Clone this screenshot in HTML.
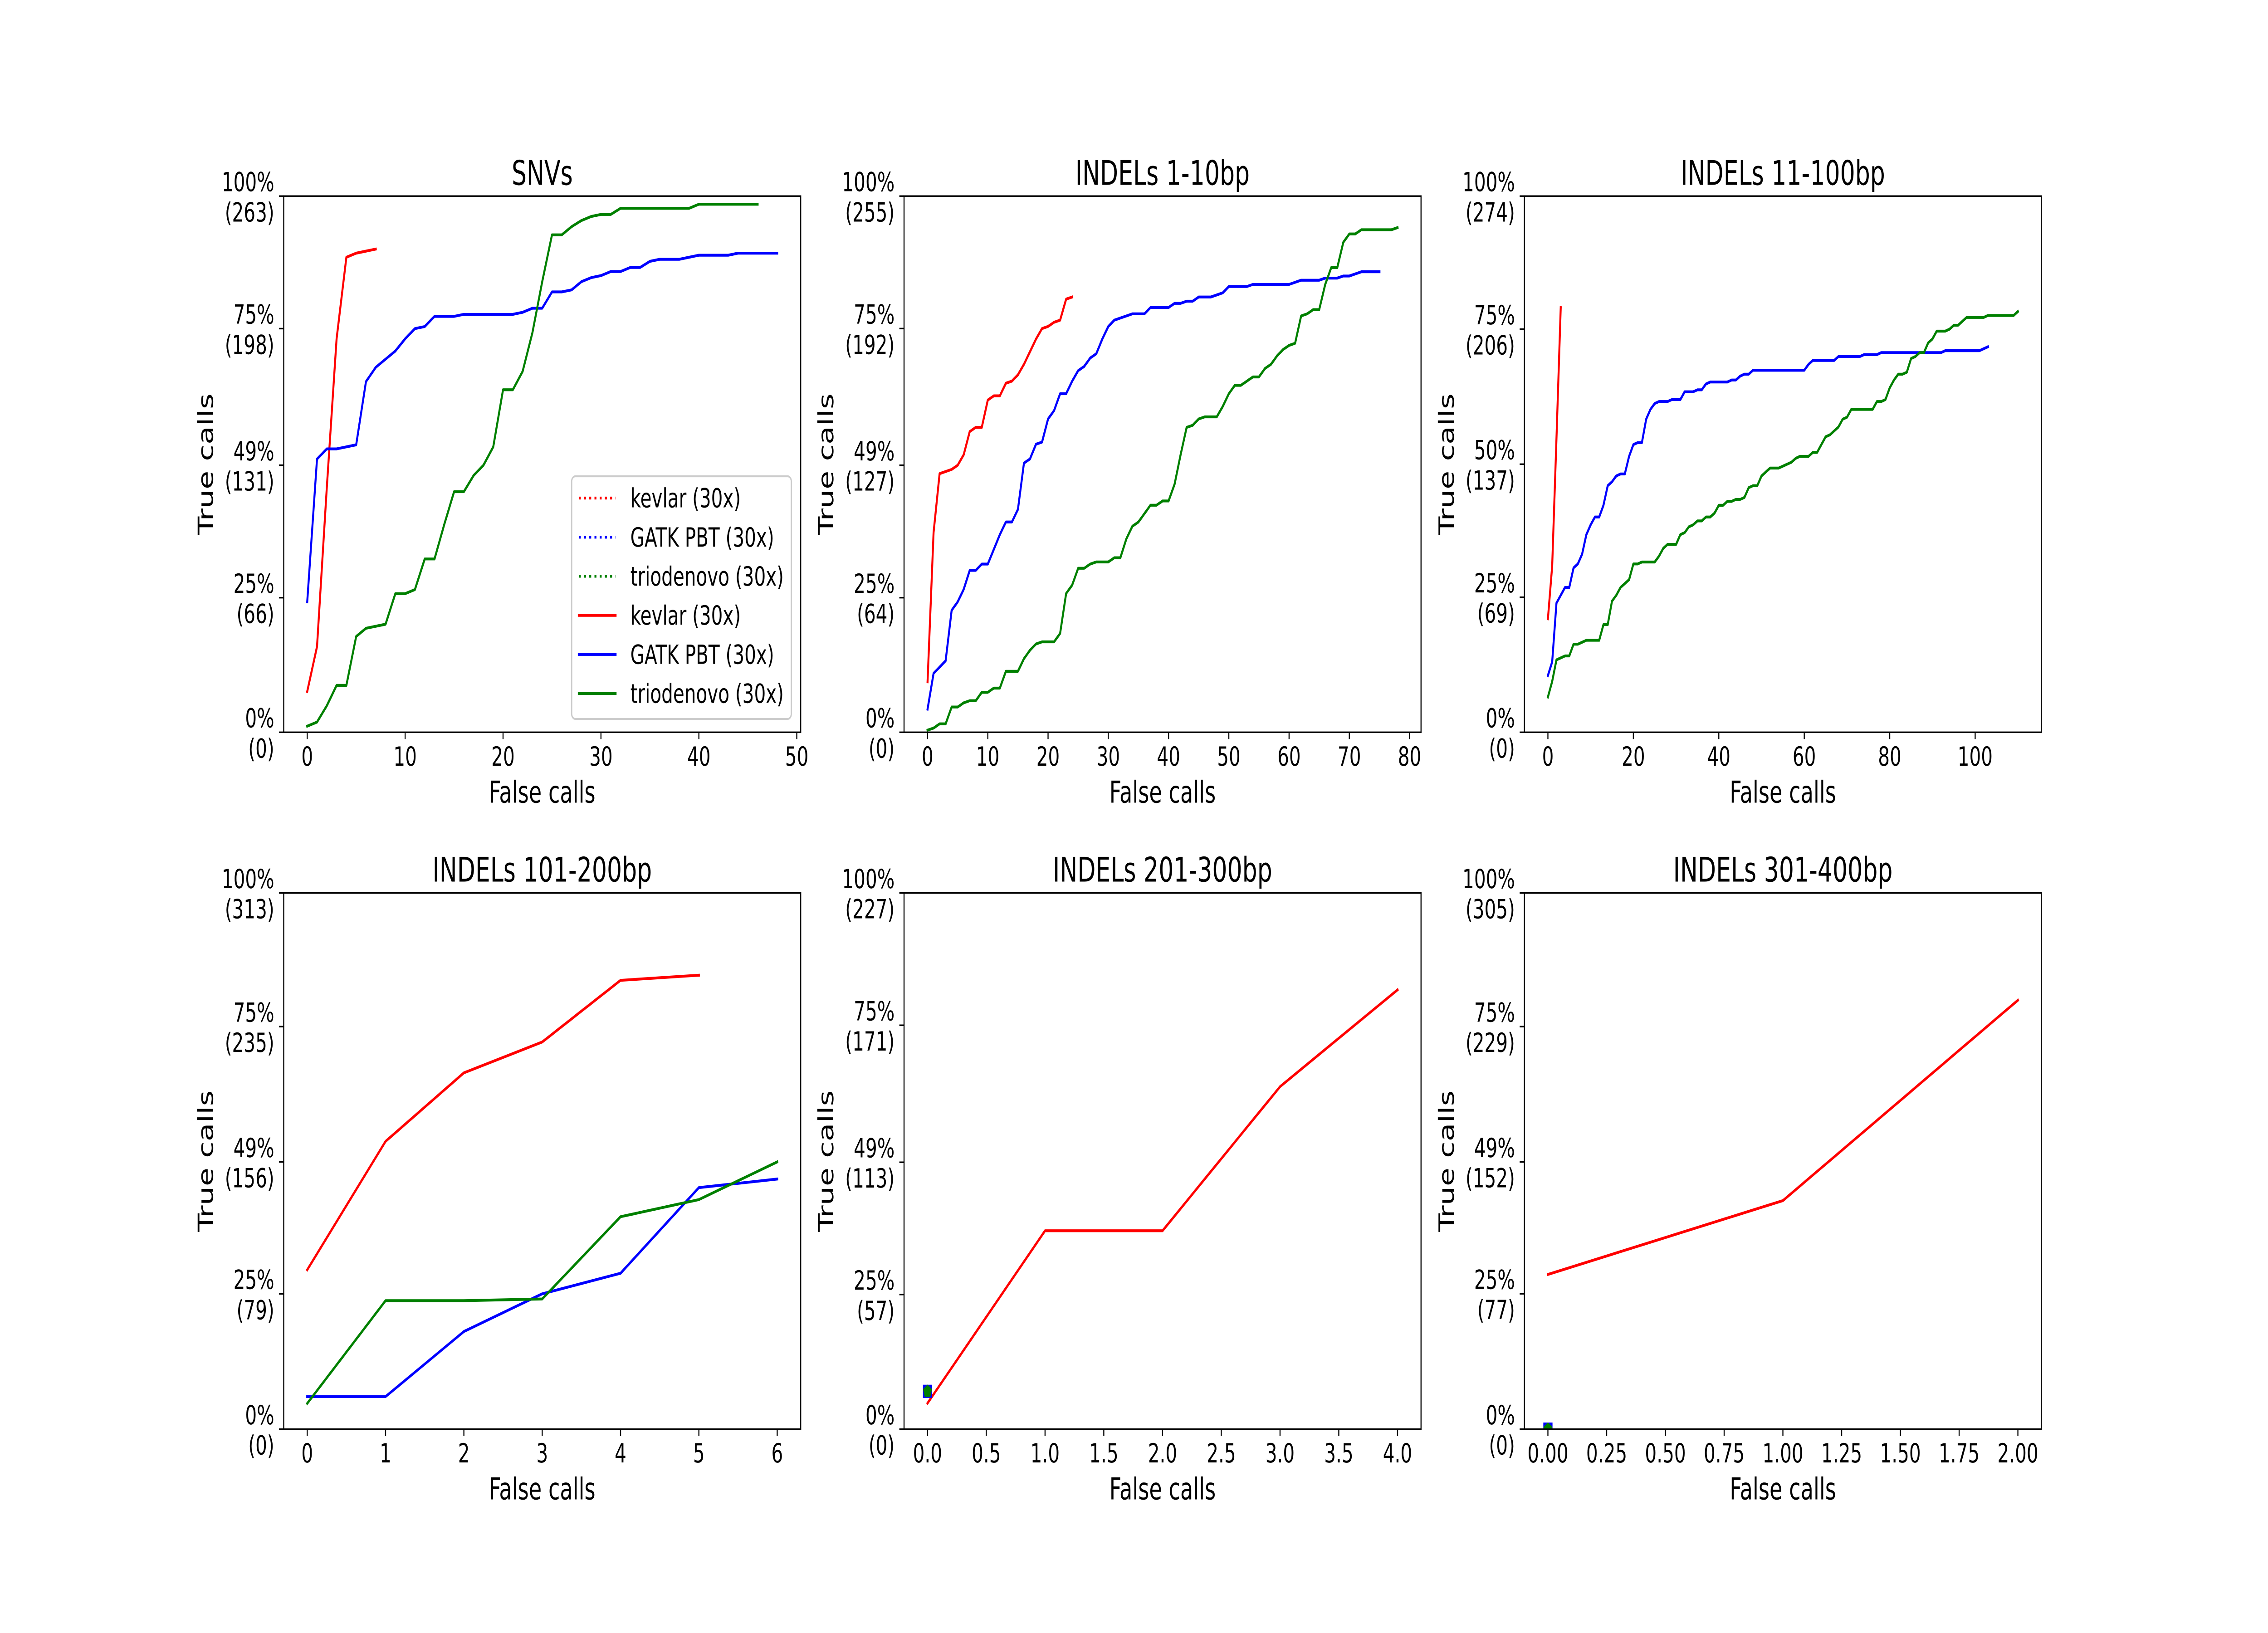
<!DOCTYPE html>
<html lang="en">
<head>
<meta charset="utf-8">
<title>True calls vs false calls</title>
<style>
html,body{margin:0;padding:0;background:#fff;width:100%;height:100%;overflow:hidden;}
svg{display:block;width:100vw;height:100vh;}
text{font-family:"DejaVu Sans","Liberation Sans",sans-serif;fill:#000;text-rendering:geometricPrecision;}
</style>
</head>
<body>
<svg id="figure" xmlns="http://www.w3.org/2000/svg" viewBox="0 0 7200 3600" preserveAspectRatio="none"></svg>
<script>
/* ---------- data: counts of true calls at each false-call count (index = false calls) ---------- */
const snvKevlar = [20,42,120,193,233,235,236,237];
const snvGatk = [64,134,139,139,140,141,172,179,183,187,193,198,199,204,204,204,205,205,205,205,205,205,206,208,208,216,216,217,221,223,224,226,226,228,228,231,232,232,232,233,234,234,234,234,235,235,235,235,235];
const snvTrio = [3,5,13,23,23,47,51,52,53,68,68,70,85,85,102,118,118,126,131,140,168,168,177,196,221,244,244,248,251,253,254,254,257,257,257,257,257,257,257,257,259,259,259,259,259,259,259];

const ind1Kevlar = [24,95,123,124,125,127,132,143,145,145,158,160,160,166,167,170,175,181,187,192,193,195,196,206,207];
const ind1Gatk = [11,28,31,34,58,62,68,77,77,80,80,87,94,100,100,106,128,130,137,138,149,153,161,161,167,172,174,178,180,187,193,196,197,198,199,199,199,202,202,202,202,204,204,205,205,207,207,207,208,209,212,212,212,212,213,213,213,213,213,213,213,214,215,215,215,215,216,216,216,217,217,218,219,219,219,219];
const ind1Trio = [1,2,4,4,12,12,14,15,15,19,19,21,21,29,29,29,35,39,42,43,43,43,47,66,70,78,78,80,81,81,81,83,83,92,98,100,104,108,108,110,110,118,132,145,146,149,150,150,150,155,161,165,165,167,169,169,173,175,179,182,184,185,198,199,201,201,213,221,221,233,237,237,239,239,239,239,239,239,240];

const ind11Kevlar = [58,85,150,217];
const ind11Gatk = [29,36,66,70,74,74,84,86,91,101,106,110,110,116,126,128,131,132,132,141,147,148,148,160,165,168,169,169,169,170,170,170,174,174,174,175,175,178,179,179,179,179,179,180,180,182,183,183,185,185,185,185,185,185,185,185,185,185,185,185,185,188,190,190,190,190,190,190,192,192,192,192,192,192,193,193,193,193,194,194,194,194,194,194,194,194,194,194,194,194,194,194,194,195,195,195,195,195,195,195,195,195,196,197];
const ind11Trio = [18,26,37,38,39,39,45,45,46,47,47,47,47,55,55,67,70,74,76,78,86,86,87,87,87,87,90,94,96,96,96,101,102,105,106,108,108,110,110,112,116,116,118,118,119,119,120,125,126,126,131,133,135,135,135,136,137,138,140,141,141,141,143,143,147,151,152,154,156,160,161,165,165,165,165,165,165,169,169,170,176,180,183,183,184,191,192,194,194,199,201,205,205,205,206,208,208,210,212,212,212,212,212,213,213,213,213,213,213,213,215];

const ind101Kevlar = [93,168,208,226,262,265];
const ind101Gatk = [19,19,57,79,91,141,146];
const ind101Trio = [15,75,75,76,124,134,156];

const ind201Kevlar = [11,84,84,145,186];
const ind201Gatk = [16];
const ind201Trio = [16];

const ind301Kevlar = [88,130,244];
const ind301Gatk = [0];
const ind301Trio = [0];

/* ---------- tick labels ---------- */
const yCountsSnv = [0,66,131,198,263];
const yCountsInd1 = [0,64,127,192,255];
const yCountsInd11 = [0,69,137,206,274];
const yCountsInd101 = [0,79,156,235,313];
const yCountsInd201 = [0,57,113,171,227];
const yCountsInd301 = [0,77,152,229,305];
const yPercents = ['0%','25%','49%','75%','100%'];
const yPercentsInd11 = ['0%','25%','50%','75%','100%'];
const xTicksSnv = ['0','10','20','30','40','50'];
const xTicksInd1 = ['0','10','20','30','40','50','60','70','80'];
const xTicksInd11 = ['0','20','40','60','80','100'];
const xTicksInd101 = ['0','1','2','3','4','5','6'];
const xTicksInd201 = ['0.0','0.5','1.0','1.5','2.0','2.5','3.0','3.5','4.0'];
const xTicksInd301 = ['0.00','0.25','0.50','0.75','1.00','1.25','1.50','1.75','2.00'];
const panelTitles = ['SNVs','INDELs 1-10bp','INDELs 11-100bp','INDELs 101-200bp','INDELs 201-300bp','INDELs 301-400bp'];
const panelSlugs = ['snvs','indels-1-10','indels-11-100','indels-101-200','indels-201-300','indels-301-400'];
const legendLabels = ['kevlar (30x)','GATK PBT (30x)','triodenovo (30x)'];
const seriesSlugs = ['kevlar','gatk-pbt','triodenovo'];

const panelSeries = [
  [snvKevlar,snvGatk,snvTrio],
  [ind1Kevlar,ind1Gatk,ind1Trio],
  [ind11Kevlar,ind11Gatk,ind11Trio],
  [ind101Kevlar,ind101Gatk,ind101Trio],
  [ind201Kevlar,ind201Gatk,ind201Trio],
  [ind301Kevlar,ind301Gatk,ind301Trio]
];
const panelYCounts = [yCountsSnv,yCountsInd1,yCountsInd11,yCountsInd101,yCountsInd201,yCountsInd301];
const panelYPercents = [yPercents,yPercents,yPercentsInd11,yPercents,yPercents,yPercents];
const panelXTicks = [xTicksSnv,xTicksInd1,xTicksInd11,xTicksInd101,xTicksInd201,xTicksInd301];

/* ---------- layout ---------- */
const NS = 'http://www.w3.org/2000/svg';
const root = document.getElementById('figure');
const colors = ['#ff0000','#0000ff','#008000'];
const colLefts = [900.7,2870,4839.4];
const rowTops = [432.3,1968.6];
const axW = 1641.2;
const axH = 1182;
const lw = 6.25;
const spineW = 3.4;
const tickLen = 15;

function mk(parent,tag,attrs,txt){
  const el = document.createElementNS(NS,tag);
  for(const k in attrs){ el.setAttribute(k,attrs[k]); }
  if(txt!==undefined){ el.textContent = txt; }
  parent.appendChild(el);
  return el;
}

function drawPanel(i){
  const left = colLefts[i%3];
  const top = rowTops[Math.floor(i/3)];
  const bottom = top+axH;
  const series = panelSeries[i];
  const counts = panelYCounts[i];
  const pcts = panelYPercents[i];
  const xLabels = panelXTicks[i];
  const yMax = counts[counts.length-1];
  const xMax = Math.max.apply(null,series.map(function(s){return s.length-1;}));
  const pad = xMax*0.05;
  const xScale = function(v){ return left+axW*(v+pad)/(xMax+2*pad); };
  const yScale = function(v){ return bottom-axH*v/yMax; };

  const g = mk(root,'g',{});
  
  

  const cid = 'clip-'+i;
  const defs = mk(g,'defs',{});
  const cp = mk(defs,'clipPath',{id:cid});
  mk(cp,'rect',{x:left,y:top,width:axW,height:axH});

  const bg = mk(g,'rect',{x:left,y:top,width:axW,height:axH,fill:'#fff'});
  
  

  const title = mk(g,'text',{x:left+axW/2,y:top-25,'font-size':75,'text-anchor':'middle'},panelTitles[i]);
  
  

  const marks = mk(g,'g',{'clip-path':'url(#'+cid+')'});
  
  

  series.forEach(function(vals,s){
    if(vals.length>1){
      const pts = vals.map(function(v,x){ return xScale(x).toFixed(2)+','+yScale(v).toFixed(2); }).join(' ');
      const line = mk(marks,'polyline',{points:pts,fill:'none',stroke:colors[s],'stroke-width':lw,'stroke-linecap':'square','stroke-linejoin':'round'});
      
      
    }else{
      const cx = xScale(0);
      const cy = yScale(vals[0]);
      if(s===1){
        const sq = mk(marks,'rect',{x:cx-14.6,y:cy-14.6,width:29.2,height:29.2,fill:colors[s]});
        
        
      }else{
        const r = 15;
        const pp = [0,1,2,3,4].map(function(k){
          const a = -Math.PI/2+k*2*Math.PI/5;
          return (cx+r*Math.cos(a)).toFixed(2)+','+(cy+r*Math.sin(a)).toFixed(2);
        }).join(' ');
        const pent = mk(marks,'polygon',{points:pp,fill:colors[s]});
        
        
      }
    }
  });

  const frame = mk(g,'rect',{x:left,y:top,width:axW,height:axH,fill:'none',stroke:'#000','stroke-width':spineW});
  
  

  xLabels.forEach(function(lab){
    const px = xScale(Number(lab));
    const t = mk(g,'line',{x1:px,x2:px,y1:bottom,y2:bottom+tickLen,stroke:'#000','stroke-width':spineW});
    
    
    const tl = mk(g,'text',{x:px,y:bottom+73.5,'font-size':58.33,'text-anchor':'middle'},lab);
    
    
  });

  counts.forEach(function(c,k){
    const py = yScale(c);
    const t = mk(g,'line',{x1:left-tickLen,x2:left,y1:py,y2:py,stroke:'#000','stroke-width':spineW});
    
    
    const tl = mk(g,'text',{'font-size':58.33,'text-anchor':'end'});
    
    
    mk(tl,'tspan',{x:left-30,y:py-10.7},pcts[k]);
    mk(tl,'tspan',{x:left-30,y:py+56},'('+c+')');
  });

  const xl = mk(g,'text',{x:left+axW/2,y:bottom+155,'font-size':66.67,'text-anchor':'middle'},'False calls');
  
  

  const yx = left-224.5;
  const yy = top+axH/2;
  const yl = mk(g,'text',{x:yx,y:yy,'font-size':66.67,'text-anchor':'middle',transform:'rotate(-90 '+yx+' '+yy+')'},'True calls');
  
  
}

function drawLegend(){
  const g = mk(root,'g',{});
  
  
  const box = mk(g,'rect',{x:1814.7,y:1050,width:697.5,height:535,rx:11.7,ry:11.7,fill:'#fff','fill-opacity':0.8,stroke:'#cccccc','stroke-width':4.17});
  
  
  const x0 = 1837.5;
  const x1 = 1954.2;
  [0,1,2,3,4,5].forEach(function(k){
    const rowY = 1098+k*86.2;
    const s = k%3;
    const solid = k>=3;
    const attrs = {x1:x0,x2:x1,y1:rowY,y2:rowY,stroke:colors[s],'stroke-width':lw};
    if(solid){ attrs['stroke-linecap']='square'; }
    else{ attrs['stroke-dasharray']='6.25 10.31'; }
    const h = mk(g,'line',attrs);
    
    
    const t = mk(g,'text',{x:2001,y:rowY+20.6,'font-size':58.33},legendLabels[s]);
    
    
  });
}

panelTitles.forEach(function(_,i){ drawPanel(i); });
drawLegend();
</script>
</body>
</html>
